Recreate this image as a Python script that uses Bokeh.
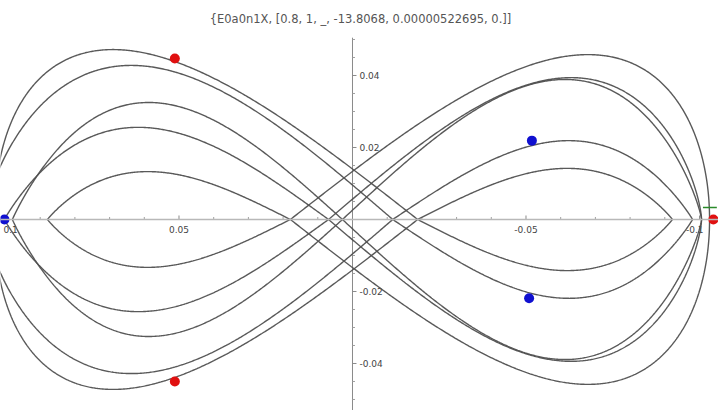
import numpy as np
from bokeh.plotting import figure
from bokeh.models import Range1d, Span, Label
from bokeh.embed import file_html
from bokeh.resources import INLINE
from bokeh.core.properties import value

# ---------------- data ----------------
title_text = "{E0a0n1X, [0.8, 1, _, -13.8068, 0.00000522695, 0.]]"

# five figure-eight loops: crossing point, outer extents, lobe heights, peak position (fraction of lobe width)
loop_center = [0.0179, 0.0069, 0.0029, -0.0116, -0.0188]
pos_extent = [0.0879, 0.1003, 0.0980, 0.1061, 0.1032]
neg_extent = [-0.1029, -0.1006, -0.1006, -0.0980, -0.0922]
pos_height = [0.0133, 0.0256, 0.0325, 0.0428, 0.0472]
neg_height = [0.0458, 0.0394, 0.0389, 0.0219, 0.0142]
pos_peak = [0.54, 0.58, 0.58, 0.64, 0.72]
neg_peak = [0.71, 0.65, 0.62, 0.50, 0.56]

red_x = [0.0512, 0.0512, -0.1040]
red_y = [0.0447, -0.0450, 0.0]
blue_x = [-0.0517, -0.0509, 0.1003]
blue_y = [0.0219, -0.0219, 0.0]

# small green marker near the right end of the x axis
green_x = [-0.1010, -0.1050]
green_y = [0.0033, 0.0033]

x_ticks = [-0.05, 0.05]
x_tick_labels = ["-0.05", "0.05"]
x_end_ticks = [-0.1, 0.1]
x_end_labels = ["-0.1", "0.1"]
y_ticks = [-0.04, -0.02, 0.02, 0.04]
y_tick_labels = ["-0.04", "-0.02", "0.02", "0.04"]
x_minor = [-0.09, -0.08, -0.07, -0.06, -0.04, -0.03, -0.02, -0.01,
           0.01, 0.02, 0.03, 0.04, 0.06, 0.07, 0.08, 0.09]
y_minor = [-0.05, -0.045, -0.035, -0.03, -0.025, -0.015, -0.01, -0.005,
           0.005, 0.01, 0.015, 0.025, 0.03, 0.035, 0.045, 0.05]

# plot extents (data units)
X_LEFT, X_RIGHT = 0.10144, -0.10548      # reversed x direction, as in the picture
Y_BOTTOM, Y_TOP = -0.05306, 0.06083
AXIS_TOP = 0.0505

# ---------------- figure ----------------
W_PX, H_PX = 718, 410
p = figure(width=W_PX, height=H_PX, output_backend="svg", toolbar_location=None,
           x_range=Range1d(X_LEFT, X_RIGHT), y_range=Range1d(Y_BOTTOM, Y_TOP),
           x_axis_type=None, y_axis_type=None, min_border=0,
           outline_line_color=None, background_fill_color="white",
           border_fill_color="white")
p.xgrid.visible = False
p.ygrid.visible = False

px_x = (X_LEFT - X_RIGHT) / W_PX   # data units per pixel
px_y = (Y_TOP - Y_BOTTOM) / H_PX

# axes through the origin
p.add_layout(Span(location=0, dimension="width", line_color="#b8b8b8", line_width=1.6))
p.segment(x0=[0], y0=[Y_BOTTOM], x1=[0], y1=[AXIS_TOP], line_color="#8a8a8a", line_width=1)

# ticks
all_x_major = x_ticks + x_end_ticks
p.segment(x0=all_x_major, y0=[0] * len(all_x_major), x1=all_x_major,
          y1=[4 * px_y] * len(all_x_major), line_color="#8a8a8a", line_width=1)
p.segment(x0=x_minor, y0=[0] * len(x_minor), x1=x_minor, y1=[2.5 * px_y] * len(x_minor),
          line_color="#a0a0a0", line_width=1)
p.segment(x0=[0] * len(y_ticks), y0=y_ticks, x1=[-4 * px_x] * len(y_ticks), y1=y_ticks,
          line_color="#8a8a8a", line_width=1)
p.segment(x0=[0] * len(y_minor), y0=y_minor, x1=[-2.5 * px_x] * len(y_minor), y1=y_minor,
          line_color="#a0a0a0", line_width=1)

p.text(x=x_ticks, y=[0] * len(x_ticks), text=x_tick_labels, y_offset=7,
       text_align="center", text_baseline="top", text_font=value("DejaVu Sans"),
       text_font_size="9px", text_color="#444444")
# end labels kept inside the window
p.text(x=[x_end_ticks[0]], y=[0], text=[x_end_labels[0]], y_offset=7, x_offset=4,
       text_align="right", text_baseline="top", text_font=value("DejaVu Sans"),
       text_font_size="9px", text_color="#444444")
p.text(x=[x_end_ticks[1]], y=[0], text=[x_end_labels[1]], y_offset=7, x_offset=-2,
       text_align="left", text_baseline="top", text_font=value("DejaVu Sans"),
       text_font_size="9px", text_color="#444444")
p.text(x=[0] * len(y_ticks), y=y_ticks, text=y_tick_labels, x_offset=7,
       text_align="left", text_baseline="middle", text_font=value("DejaVu Sans"),
       text_font_size="9px", text_color="#444444")

# loops
def shape_exp(f):
    b = (1.0 / (f * f) - 1.0) / 2.0
    return min(max(b, 0.3), 0.95)

t = np.linspace(0, 2 * np.pi, 1601)
for c, pe, ne, ph, nh, pf, nf in zip(loop_center, pos_extent, neg_extent,
                                      pos_height, neg_height, pos_peak, neg_peak):
    s = np.sin(t)
    r = np.abs(s)
    pos = s >= 0
    width = np.where(pos, pe - c, ne - c)
    xs = c + width * r
    b = np.where(pos, shape_exp(pf), shape_exp(nf))
    r0 = 1.0 / np.sqrt(1 + 2 * b)
    fmax = r0 * (1 - r0 ** 2) ** b
    F = r * np.clip(1 - r ** 2, 0, None) ** b / fmax
    hh = np.where(pos, ph, nh)
    ys = hh * F * np.sign(np.sin(2 * t))
    p.line(xs, ys, line_color="#505050", line_width=1.4, line_alpha=0.95)

p.line(green_x, green_y, line_color="#2a8a2a", line_width=1.5)
p.scatter(red_x, red_y, size=10, fill_color="#e01010", line_color=None)
p.scatter(blue_x, blue_y, size=10, fill_color="#1010d0", line_color=None)

p.add_layout(Label(x=360, y=H_PX - 18, x_units="screen", y_units="screen",
                   text=title_text, text_align="center", text_baseline="middle",
                   text_font="DejaVu Sans", text_font_size="11.5px", text_color="#555555"))

open("out.html", "w").write(file_html(p, INLINE))
